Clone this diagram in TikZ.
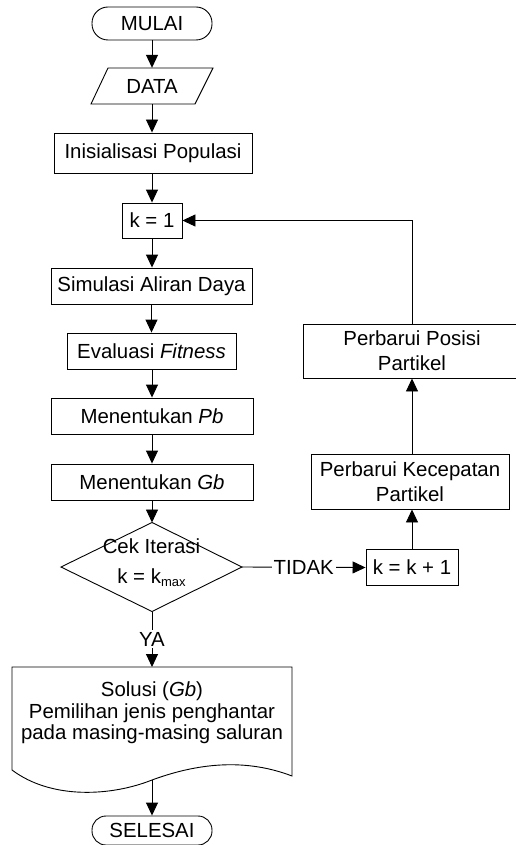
\documentclass[tikz,border=0pt]{standalone}
\usepackage{fontspec}
\setmainfont{Liberation Sans}
\usetikzlibrary{arrows.meta}
\begin{document}
\begin{tikzpicture}[x=1pt,y=-1pt,
  font=\fontsize{20.4}{24}\selectfont,
  ln/.style={line width=0.9pt, draw=black},
  box/.style={ln, inner sep=0pt, align=center},
  arr/.style={ln, -{Triangle[length=13pt,width=12pt]}},
  two/.style={font=\fontsize{20.4}{25}\selectfont}]
\useasboundingbox (0,0) rectangle (516,845);

% left column
\node[box, rounded corners=16pt, minimum width=120pt, minimum height=33pt] (mulai) at (152,23.5) {MULAI};
\node[inner sep=0pt, minimum width=100pt, minimum height=36pt] (data) at (152,86) {DATA};
\draw[ln] (91,104) -- (108,68) -- (213,68) -- (195,104) -- cycle;
\node[box, minimum width=198pt, minimum height=40pt] (inis) at (153,153) {Inisialisasi Populasi};
\node[box, minimum width=60pt, minimum height=35pt] (k1) at (152,220.5) {k = 1};
\node[box, minimum width=201pt, minimum height=36pt] (sim) at (151.5,286) {Simulasi Aliran Daya};
\node[box, minimum width=169pt, minimum height=36pt] (eva) at (151.5,351) {Evaluasi \textit{Fitness}};
\node[box, minimum width=202pt, minimum height=36pt] (pb) at (152,416) {Menentukan \textit{Pb}};
\node[box, minimum width=202pt, minimum height=36pt] (gb) at (152,482) {Menentukan \textit{Gb}};

% decision
\coordinate (cekN) at (152,522.5);
\coordinate (cekE) at (242,567);
\coordinate (cekS) at (152,611.5);
\coordinate (cekW) at (61,567);
\draw[ln] (cekW) -- (cekN) -- (cekE) -- (cekS) -- cycle;
\node[anchor=base, inner sep=0pt] (cekA) at (151.5,553) {Cek Iterasi};
\node[anchor=base, inner sep=0pt] (cekB) at (151.5,583) {k = k\raisebox{-3.5pt}{\fontsize{13}{13}\selectfont max}};

% document
\coordinate (docN) at (152,667);
\coordinate (docS) at (152,780);
\draw[ln] (12,770) -- (12,667) -- (292,667) -- (292,776)
  .. controls (240,756) and (190,766) .. (docS)
  .. controls (112,796) and (52,800) .. (12,770);
\node[inner sep=0pt, align=center, font=\fontsize{20.4}{21.7}\selectfont] (doc) at (152,713)
  {Solusi (\textit{Gb})\\Pemilihan jenis penghantar\\pada masing-masing saluran};

\node[box, rounded corners=14pt, minimum width=120pt, minimum height=29pt] (selesai) at (152,830.5) {SELESAI};

% right column
\node[box, minimum width=92pt, minimum height=36pt] (kk) at (412,567.5) {k = k + 1};
\node[box, two, minimum width=198pt, minimum height=55pt] (kec) at (410,481.5) {Perbarui Kecepatan\\Partikel};
\node[box, two, minimum width=218pt, minimum height=54pt] (pos) at (412,351) {Perbarui Posisi\\Partikel};

% connectors
\draw[arr] (mulai) -- (data);
\draw[arr] (data.south) -- (data.south |- inis.north);
\draw[arr] (inis.south -| k1.north) -- (k1.north);
\draw[arr] (k1) -- (k1 |- sim.north);
\draw[arr] (sim.south -| eva.north) -- (eva.north);
\draw[arr] (eva.south -| pb.north) -- (pb.north);
\draw[arr] (pb) -- (gb);
\draw[arr] (gb.south) -- (cekN);
\draw[arr] (cekE) -- node[fill=white, inner sep=2pt] {TIDAK} (kk.west);
\draw[arr] (cekS) -- node[fill=white, inner sep=2pt] {YA} (docN);
\draw[arr] (docS) -- (selesai.north);
\draw[arr] (kk.north) -- (kk.north |- kec.south);
\draw[arr] (kk.north |- kec.north) -- (pos.south);
\draw[arr] (pos.north) -- (pos.north |- k1.east) -- (k1.east);
\end{tikzpicture}
\end{document}
